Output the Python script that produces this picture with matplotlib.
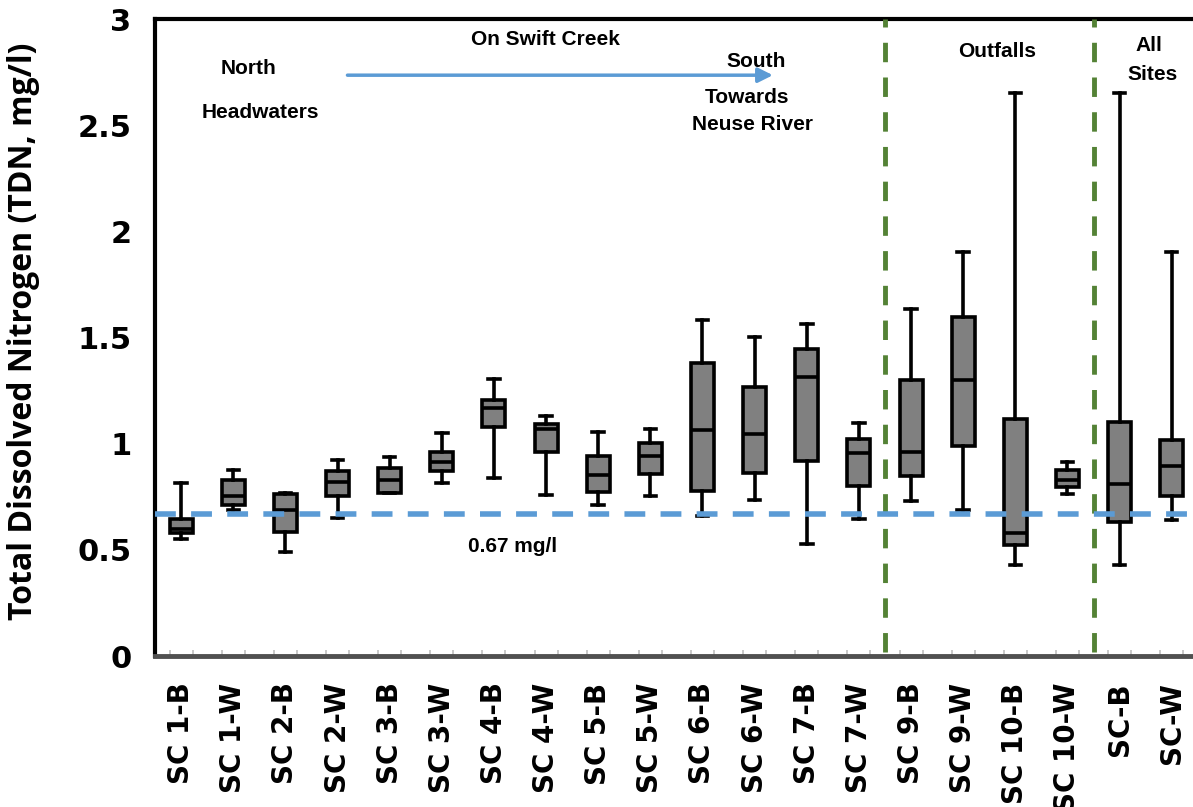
import numpy as np
import matplotlib.pyplot as plt

plt.rcParams['lines.scale_dashes'] = False

# sampling sites along Swift Creek, outfalls, and all-site summaries
sites = ['SC 1-B', 'SC 1-W', 'SC 2-B', 'SC 2-W', 'SC 3-B', 'SC 3-W', 'SC 4-B',
         'SC 4-W', 'SC 5-B', 'SC 5-W', 'SC 6-B', 'SC 6-W', 'SC 7-B', 'SC 7-W',
         'SC 9-B', 'SC 9-W', 'SC 10-B', 'SC 10-W', 'SC-B', 'SC-W']

# TDN box statistics (mg/l)
whisker_lo = [0.55, 0.69, 0.49, 0.65, 0.77, 0.815, 0.84, 0.76, 0.71, 0.755,
              0.66, 0.735, 0.53, 0.645, 0.73, 0.69, 0.43, 0.765, 0.43, 0.64]
q1 = [0.58, 0.71, 0.585, 0.755, 0.77, 0.87, 1.08, 0.96, 0.775, 0.86,
      0.78, 0.865, 0.92, 0.80, 0.85, 0.99, 0.525, 0.795, 0.63, 0.755]
median = [0.60, 0.755, 0.69, 0.82, 0.83, 0.915, 1.17, 1.07, 0.855, 0.945,
          1.065, 1.045, 1.315, 0.955, 0.96, 1.30, 0.58, 0.83, 0.81, 0.895]
q3 = [0.645, 0.83, 0.765, 0.87, 0.885, 0.96, 1.205, 1.095, 0.945, 1.005,
      1.38, 1.27, 1.445, 1.025, 1.30, 1.60, 1.115, 0.875, 1.105, 1.02]
whisker_hi = [0.815, 0.875, 0.77, 0.925, 0.94, 1.05, 1.305, 1.13, 1.055, 1.07,
              1.585, 1.505, 1.565, 1.10, 1.635, 1.905, 2.655, 0.915, 2.655, 1.905]

threshold = 0.67
group_breaks = [14.5, 18.5]

stats = []
for i, name in enumerate(sites):
    stats.append(dict(label=name, whislo=whisker_lo[i], q1=q1[i], med=median[i],
                      q3=q3[i], whishi=whisker_hi[i], fliers=[]))

fig = plt.figure(figsize=(11.93, 8.07), dpi=100)
ax = fig.add_axes([0.130, 0.187, 0.874, 0.789])

positions = np.arange(1, len(sites) + 1)
ax.bxp(stats, positions=positions, widths=0.44, patch_artist=True,
       showfliers=False,
       boxprops=dict(facecolor='#808080', edgecolor='black', linewidth=2.6),
       medianprops=dict(color='black', linewidth=2.6),
       whiskerprops=dict(color='black', linewidth=2.6),
       capprops=dict(color='black', linewidth=2.6),
       capwidths=0.22)

# TDN reference level
ax.plot([0.5, len(sites) + 0.5], [threshold, threshold], color='#5B9BD5',
        linewidth=4, dashes=(15, 11), zorder=5)
ax.text(7.35, 0.515, '%.2f mg/l' % threshold, ha='center', va='center',
        fontsize=15, fontweight='bold', family='Liberation Sans')

# group separators
for xb in group_breaks:
    ax.plot([xb, xb], [0.02, 3.0], color='#548235', linewidth=3.5,
            dashes=(14, 11), zorder=4)

ax.set_xlim(0.5, len(sites) + 0.5)
ax.set_ylim(0, 3)
ax.set_yticks([0, 0.5, 1, 1.5, 2, 2.5, 3])
ax.set_yticklabels(['0', '0.5', '1', '1.5', '2', '2.5', '3'])
ax.set_xticks(positions)
ax.set_xticklabels(sites, rotation=90)
ax.tick_params(axis='both', length=0)
ax.tick_params(axis='x', pad=19, labelsize=20)
ax.tick_params(axis='y', pad=17, labelsize=22)
for lab in ax.get_xticklabels() + ax.get_yticklabels():
    lab.set_fontweight('bold')

ax.set_xticks(np.concatenate([positions - 0.22, positions + 0.22]), minor=True)
ax.tick_params(axis='x', which='minor', direction='in', length=4,
               color='#bfbfbf', width=1.2)

ax.set_ylabel('Total Dissolved Nitrogen (TDN, mg/l)', fontsize=23,
              fontweight='bold', family='Open Sans')
ax.yaxis.set_label_coords(-0.110, 0.51)

for side in ['left', 'top', 'right']:
    ax.spines[side].set_linewidth(3)
    ax.spines[side].set_color('black')
ax.spines['bottom'].set_linewidth(3.5)
ax.spines['bottom'].set_color('#505050')

# flow direction annotations
note = dict(ha='center', va='center', fontsize=15, fontweight='bold',
            family='Liberation Sans')
ax.text(7.98, 2.905, 'On Swift Creek', **note)
ax.text(2.29, 2.77, 'North', **note)
ax.text(2.52, 2.56, 'Headwaters', **note)
ax.text(12.02, 2.80, 'South', **note)
ax.text(11.85, 2.63, 'Towards', **note)
ax.text(11.96, 2.505, 'Neuse River', **note)
ax.text(16.65, 2.85, 'Outfalls', **note)
ax.text(19.56, 2.875, 'All', **note)
ax.text(19.63, 2.74, 'Sites', **note)
ax.annotate('', xy=(12.35, 2.737), xytext=(4.19, 2.737),
            arrowprops=dict(arrowstyle='-|>', color='#5B9BD5', lw=2.5,
                            mutation_scale=22, shrinkA=0, shrinkB=0))

fig.savefig('out.png', dpi=100)
